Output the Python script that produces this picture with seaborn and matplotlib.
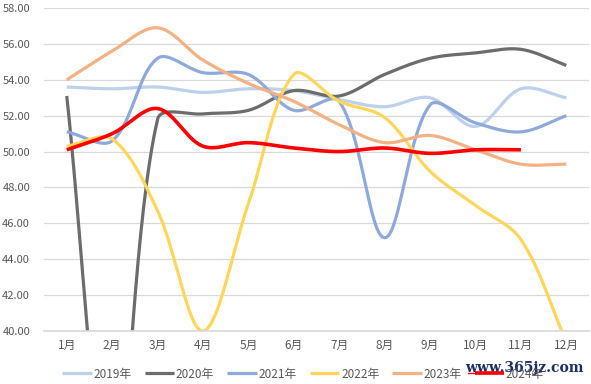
import numpy as np
import pandas as pd
import seaborn as sns
import matplotlib.pyplot as plt
from matplotlib.lines import Line2D

months = ["1月", "2月", "3月", "4月", "5月", "6月", "7月", "8月", "9月", "10月", "11月", "12月"]
years = ["2019年", "2020年", "2021年", "2022年", "2023年", "2024年"]

pmi_2019 = [53.6, 53.5, 53.6, 53.3, 53.5, 53.4, 52.9, 52.5, 53.0, 51.4, 53.5, 53.0]
pmi_2020 = [53.1, 30.1, 51.8, 52.1, 52.3, 53.4, 53.1, 54.3, 55.2, 55.5, 55.7, 54.8]
pmi_2021 = [51.1, 50.6, 55.2, 54.4, 54.3, 52.3, 52.8, 45.2, 52.6, 51.6, 51.1, 52.0]
pmi_2022 = [50.3, 50.7, 46.7, 40.0, 47.1, 54.3, 52.8, 51.9, 48.9, 47.0, 45.1, 39.4]
pmi_2023 = [54.0, 55.6, 56.9, 55.1, 53.8, 52.8, 51.5, 50.5, 50.9, 50.1, 49.3, 49.3]
pmi_2024 = [50.1, 51.0, 52.4, 50.3, 50.5, 50.2, 50.0, 50.2, 49.9, 50.1, 50.1]

series = [pmi_2019, pmi_2020, pmi_2021, pmi_2022, pmi_2023, pmi_2024]
colors = ["#BDD1EA", "#6E6B6B", "#8EA9DB", "#FFD65C", "#F4B183", "#FF0000"]
widths = [2.3, 2.3, 2.3, 2.3, 2.3, 2.6]

# pixel scale of one category step / one y unit, used for chord lengths
SX, SY = 45.4, 17.94


def smooth(vals, n=40):
    # Excel-like smoothed line: Bezier with chord-scaled Catmull-Rom arms
    y = np.asarray(vals, dtype=float)
    pts = np.column_stack([np.arange(len(y)) * SX, y * SY])
    m = len(pts)
    fwd, back = [], []
    for i in range(m):
        a = pts[max(i - 1, 0)]
        b = pts[min(i + 1, m - 1)]
        d = b - a
        l1 = np.linalg.norm(pts[i] - a)
        l2 = np.linalg.norm(b - pts[i])
        tot = l1 + l2 if l1 + l2 > 0 else 1
        fwd.append(pts[i] + d * (l2 / tot) / 3)
        back.append(pts[i] - d * (l1 / tot) / 3)
    t = np.linspace(0, 1, n)[:, None]
    xs, ys = [], []
    for i in range(m - 1):
        p0, c1, c2, p3 = pts[i], fwd[i], back[i + 1], pts[i + 1]
        bz = (1 - t) ** 3 * p0 + 3 * (1 - t) ** 2 * t * c1 + 3 * (1 - t) * t ** 2 * c2 + t ** 3 * p3
        xs.extend(bz[:, 0] / SX)
        ys.extend(bz[:, 1] / SY)
    return np.array(xs), np.array(ys)


sns.set_theme(style="white")
plt.rcParams['font.family'] = ['Noto Sans CJK SC', 'DejaVu Sans']

fig, ax = plt.subplots(figsize=(5.91, 3.84), dpi=100)
fig.subplots_adjust(left=0.0745, right=0.9966, top=0.979, bottom=0.138)

for vals, name, c, lw in zip(series, years, colors, widths):
    sx, sy = smooth(vals)
    df = pd.DataFrame({"x": sx, "y": sy})
    sns.lineplot(data=df, x="x", y="y", sort=False, color=c, linewidth=lw,
                 label=name, ax=ax, legend=False, solid_capstyle="butt")

ax.set_xlim(-0.5, 11.5)
ax.set_ylim(40, 58)
ax.set_yticks(np.arange(40, 58.1, 2))
ax.set_yticklabels([f"{v:.2f}" for v in np.arange(40, 58.1, 2)])
ax.set_xticks(range(12))
ax.set_xticklabels(months)
ax.set_xlabel("")
ax.set_ylabel("")
ax.grid(axis="y", color="#D9D9D9", linewidth=0.9)
ax.set_axisbelow(True)
for s in ["left", "right", "top"]:
    ax.spines[s].set_visible(False)
ax.spines["bottom"].set_color("#D9D9D9")
ax.tick_params(axis="both", length=0, labelsize=8, colors="#595959")
ax.tick_params(axis="x", pad=6, labelsize=8.5)
ax.tick_params(axis="y", pad=10)

handles, labels = ax.get_legend_handles_labels()
fig.legend(handles, labels, loc="center", bbox_to_anchor=(0.513, 0.026), ncol=6,
           frameon=False, fontsize=8.5, handlelength=2.5, handletextpad=0.15,
           columnspacing=1.1, labelcolor="#595959")

# site watermark over the last legend entry
fig.text(0.987, 0.041, "www.365jz.com", ha="right", va="center", fontsize=10,
         color="#1B2F6B", family="DejaVu Serif", fontweight="bold")
fig.add_artist(Line2D([0.792, 0.84], [0.028, 0.028], color="#FF0000", linewidth=1.0,
                      transform=fig.transFigure))

fig.savefig("out.png", dpi=100)
